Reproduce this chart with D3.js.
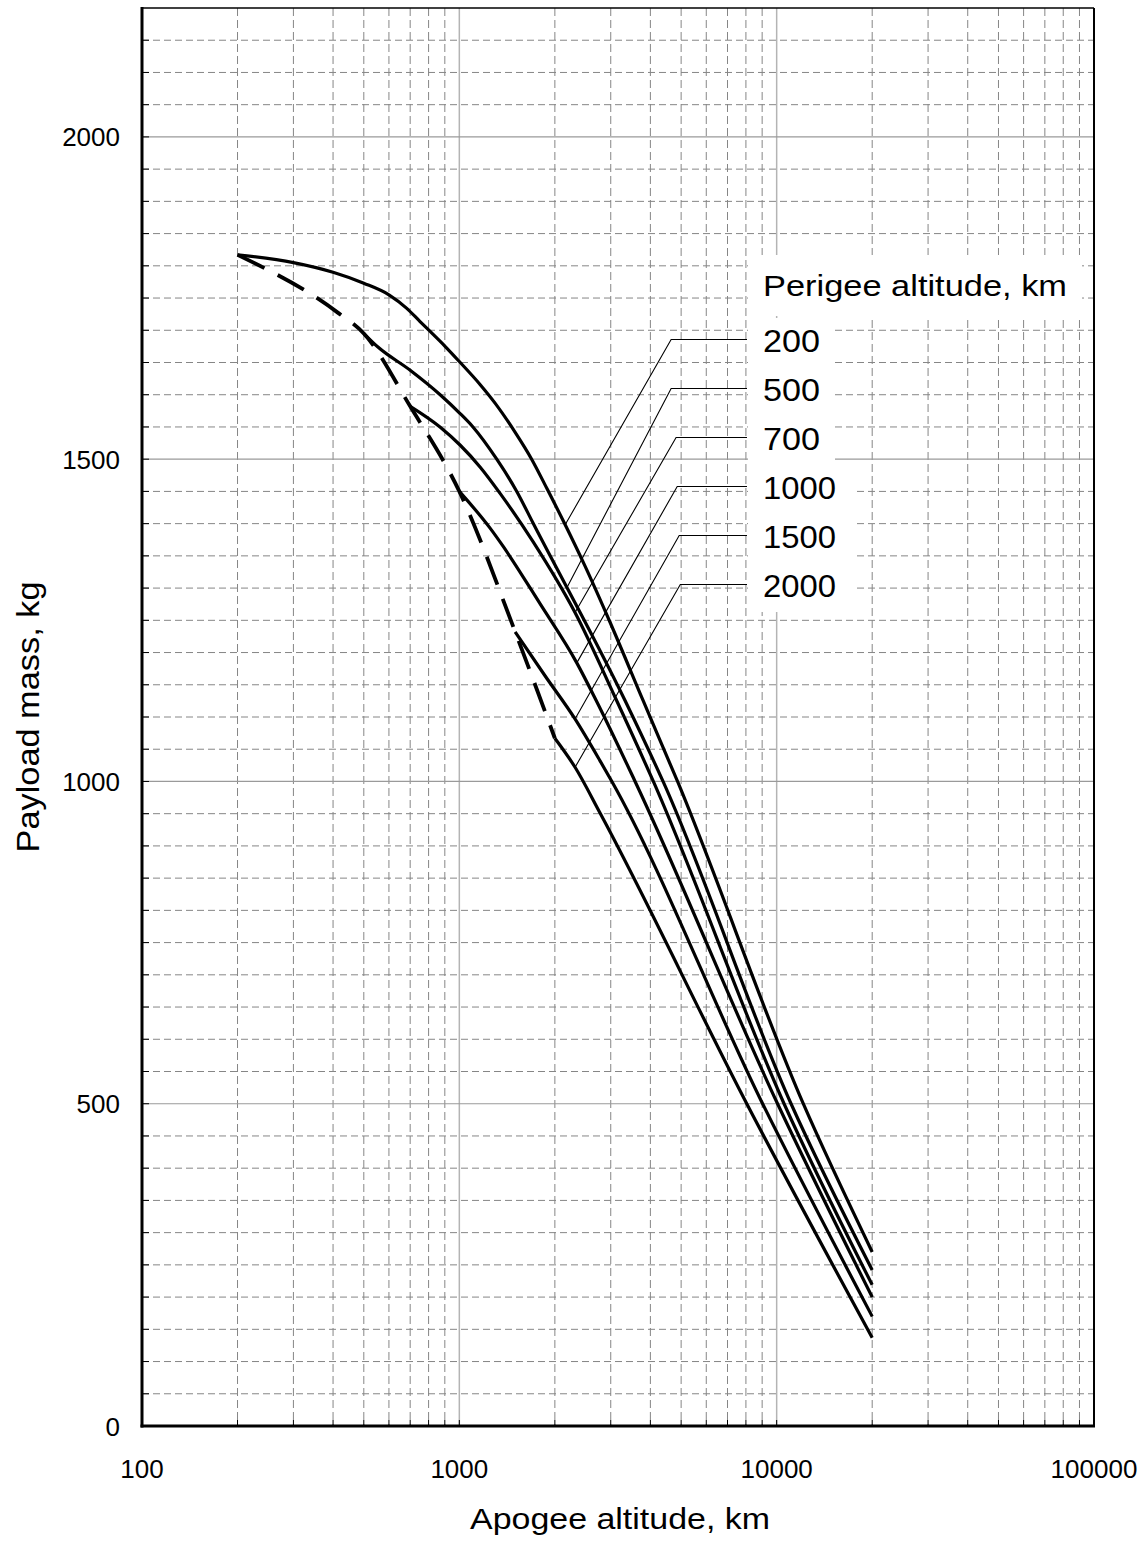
<!DOCTYPE html>
<html><head><meta charset="utf-8">
<script src="https://cdn.jsdelivr.net/npm/d3@7"></script>
<style>body{margin:0;background:#fff}</style>
</head><body>
<svg id="chart" width="1147" height="1542"></svg>
<script>
// ---------- DATA ----------
const perigees = [200, 500, 700, 1000, 1500, 2000];
const curve200 = [[200,1817],[300,1805],[400,1790],[500,1773],[600,1755],[683,1734],[752,1713.5],[800,1700.5],[900,1675.5],[1000,1651.5],[1162,1616],[1296,1587],[1498,1542],[1690,1500],[1890,1454],[2127,1404],[2490,1334],[2985,1247],[3790,1126],[4890,998],[12130,500],[20000,270]];
const curve500 = [[500,1695],[554,1674],[700,1638],[870,1600],[1000,1572],[1104,1550],[1312,1500],[1517,1450],[1707,1401],[3325,1126],[4385,1000],[11100,500],[20000,242]];
const curve700 = [[700,1582],[869,1550],[1005,1522],[1162,1488],[1344,1447],[1707,1372],[2315,1262],[3094,1131],[4087,1000],[10552,500],[20000,219]];
const curve1000 = [[1000,1450],[1250,1393],[1373,1365],[1800,1275],[2345,1184],[2697,1126],[3580,1000],[10065,500],[20000,200]];
const curve1500 = [[1500,1232],[1862,1164],[2315,1097],[2776,1032],[3025,1000],[9030,500],[20000,170]];
const curve2000 = [[2000,1067],[2316,1022],[2776,951],[8050,500],[20000,137]];
const envelope = [[200,1817],[415,1727],[500,1695],[700,1582],[1000,1450],[1500,1232],[2000,1067]];
const series = [curve200, curve500, curve700, curve1000, curve1500, curve2000];
const leaderApogee = [2155, 2180, 2315, 2345, 2315, 2316];
const kneeApogee = [4650, 4650, 4820, 4860, 4930, 4970];
const xTickLabels = [100, 1000, 10000, 100000];
const yTickLabels = [0, 500, 1000, 1500, 2000];
const legendTitle = "Perigee altitude, km";
const xTitle = "Apogee altitude, km";
const yTitle = "Payload mass, kg";

// ---------- LAYOUT ----------
const svg = d3.select("#chart");
const L = 142, R = 1094, T = 8, B = 1426;
const x = d3.scaleLog().domain([100, 100000]).range([L, R]);
const y = d3.scaleLinear().domain([0, 2200]).range([B, T]);
const font = "'Liberation Sans', Arial, sans-serif";

// grid
const xMinor = [], xMajor = [1000, 10000];
[100, 1000, 10000].forEach(d => { for (let k = 2; k <= 9; k++) xMinor.push(d * k); });
const yMinor = d3.range(50, 2200, 50).filter(v => v % 500 !== 0);
const yMajor = [500, 1000, 1500, 2000];

const g = svg.append("g");
g.selectAll(".xm").data(xMinor).join("line")
  .attr("x1", d => x(d)).attr("x2", d => x(d)).attr("y1", T).attr("y2", B)
  .attr("stroke", "#868686").attr("stroke-width", 1).attr("stroke-dasharray", "8,4");
g.selectAll(".ym").data(yMinor).join("line")
  .attr("x1", L).attr("x2", R).attr("y1", d => y(d)).attr("y2", d => y(d))
  .attr("stroke", "#868686").attr("stroke-width", 1).attr("stroke-dasharray", "7,4");
g.selectAll(".xM").data(xMajor).join("line")
  .attr("x1", d => x(d)).attr("x2", d => x(d)).attr("y1", T).attr("y2", B)
  .attr("stroke", "#b4b4b4").attr("stroke-width", 1.5);
g.selectAll(".yM").data(yMajor).join("line")
  .attr("x1", L).attr("x2", R).attr("y1", d => y(d)).attr("y2", d => y(d))
  .attr("stroke", "#9a9a9a").attr("stroke-width", 1.2);

// legend boxes (white, cover grid)
const rowBase = 352, rowStep = 49, legX = 763, boxL = 748;
svg.append("rect").attr("x", boxL).attr("y", 255).attr("width", 1082 - boxL).attr("height", 61).attr("fill", "#fff");
perigees.forEach((p, i) => {
  const w = String(p).length === 3 ? 835 : 853;
  svg.append("rect").attr("x", boxL).attr("y", rowBase + i * rowStep - 34)
    .attr("width", w - boxL).attr("height", rowStep).attr("fill", "#fff");
});

// curves
const line = d3.line().x(d => x(d[0])).y(d => y(d[1])).curve(d3.curveMonotoneX);
svg.selectAll(".curve").data(series).join("path")
  .attr("d", line).attr("fill", "none").attr("stroke", "#000")
  .attr("stroke-width", 3.2).attr("stroke-linejoin", "round");
svg.append("path").datum(envelope).attr("d", line).attr("fill", "none")
  .attr("stroke", "#000").attr("stroke-width", 3.8).attr("stroke-dasharray", "30,15");

// leaders
function interp(c, a) {
  for (let i = 0; i < c.length - 1; i++) {
    if (a >= c[i][0] && a <= c[i + 1][0]) {
      const t = (Math.log(a) - Math.log(c[i][0])) / (Math.log(c[i + 1][0]) - Math.log(c[i][0]));
      return c[i][1] + t * (c[i + 1][1] - c[i][1]);
    }
  }
  return c[c.length - 1][1];
}
const legendWidths = {3: 57, 4: 73};
perigees.forEach((p, i) => {
  const ly = rowBase + i * rowStep - 12.5;
  const pts = [[x(leaderApogee[i]), y(interp(series[i], leaderApogee[i]))],
               [x(kneeApogee[i]), ly], [boxL - 1, ly]];
  svg.append("path").attr("d", d3.line()(pts)).attr("fill", "none")
    .attr("stroke", "#000").attr("stroke-width", 1.1);
  svg.append("text").attr("x", legX).attr("y", rowBase + i * rowStep)
    .attr("font-family", font).attr("font-size", 32)
    .attr("textLength", legendWidths[String(p).length]).attr("lengthAdjust", "spacingAndGlyphs")
    .text(p);
});
svg.append("text").attr("x", legX).attr("y", 296)
  .attr("font-family", font).attr("font-size", 30)
  .attr("textLength", 304).attr("lengthAdjust", "spacingAndGlyphs").text(legendTitle);

// axes frame
svg.append("line").attr("x1", L).attr("x2", R).attr("y1", T).attr("y2", T).attr("stroke", "#000").attr("stroke-width", 1.5);
svg.append("line").attr("x1", R).attr("x2", R).attr("y1", T).attr("y2", B).attr("stroke", "#000").attr("stroke-width", 2);
// ticks
svg.selectAll(".yt").data(d3.range(50, 2200, 50)).join("line")
  .attr("x1", L).attr("x2", L + 7).attr("y1", d => y(d)).attr("y2", d => y(d))
  .attr("stroke", "#000").attr("stroke-width", 1);
svg.selectAll(".xt").data(xMinor.concat(xMajor)).join("line")
  .attr("x1", d => x(d)).attr("x2", d => x(d)).attr("y1", B).attr("y2", B - 6)
  .attr("stroke", "#000").attr("stroke-width", 1);
svg.append("line").attr("x1", L).attr("x2", L).attr("y1", T - 1).attr("y2", B + 1.5).attr("stroke", "#000").attr("stroke-width", 3);
svg.append("line").attr("x1", L - 1.5).attr("x2", R + 1).attr("y1", B).attr("y2", B).attr("stroke", "#000").attr("stroke-width", 3);

// tick labels
svg.selectAll(".yl").data(yTickLabels).join("text")
  .attr("x", 120).attr("y", d => y(d) + 9.5).attr("text-anchor", "end")
  .attr("font-family", font).attr("font-size", 26).text(d => d);
svg.selectAll(".xl").data(xTickLabels).join("text")
  .attr("x", d => x(d)).attr("y", 1478).attr("text-anchor", "middle")
  .attr("font-family", font).attr("font-size", 26).text(d => d);

// axis titles
svg.append("text").attr("x", 620).attr("y", 1529).attr("text-anchor", "middle")
  .attr("font-family", font).attr("font-size", 30)
  .attr("textLength", 300).attr("lengthAdjust", "spacingAndGlyphs").text(xTitle);
svg.append("text").attr("transform", "translate(39,717) rotate(-90)").attr("text-anchor", "middle")
  .attr("font-family", font).attr("font-size", 31)
  .attr("textLength", 271).attr("lengthAdjust", "spacingAndGlyphs").text(yTitle);
</script>
</body></html>
